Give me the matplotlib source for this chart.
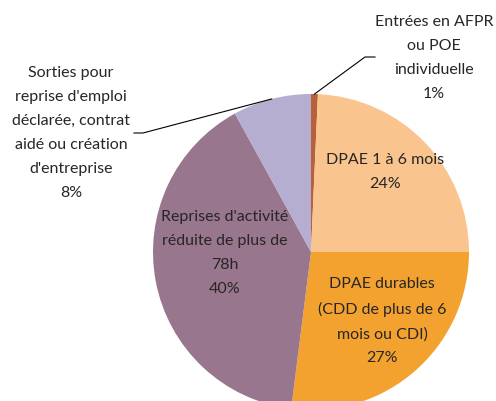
import numpy as np
import matplotlib
matplotlib.use('Agg')
import matplotlib.pyplot as plt

plt.rcParams['font.family'] = ['Lato', 'DejaVu Sans']

# parts of the exits, clockwise from the top
labels = ["Entrées en AFPR\nou POE\nindividuelle",
          "DPAE 1 à 6 mois",
          "DPAE durables\n(CDD de plus de 6\nmois ou CDI)",
          "Reprises d'activité\nréduite de plus de\n78h",
          "Sorties pour\nreprise d'emploi\ndéclarée, contrat\naidé ou création\nd'entreprise"]
values = [0.7, 24.3, 27.0, 40.0, 8.0]
pct_text = ["1%", "24%", "27%", "40%", "8%"]
colors = ['#B8603A', '#FAC48E', '#F4A22F', '#98768E', '#B5AED0']

W, H = 496, 401
fig = plt.figure(figsize=(W / 100, H / 100), dpi=100)
ax = fig.add_axes([0, 0, 1, 1])

cx, cy, r = 311, H - 252, 158
wedges, _ = ax.pie(values, colors=colors, startangle=90, counterclock=False,
                   center=(cx, cy), radius=r,
                   wedgeprops=dict(linewidth=0))
ax.set_xlim(0, W)
ax.set_ylim(0, H)
ax.set_aspect('equal')
ax.axis('off')

txt_color = '#262626'
fs = 11.5
ls = 1.9

# label positions in pixel space (y from top)
inside = {1: (385, 172), 2: (382, 321), 3: (225, 253)}
for i, (x, y) in inside.items():
    ax.text(x, H - y, labels[i] + "\n" + pct_text[i], ha='center', va='center',
            fontsize=fs, color=txt_color, linespacing=ls)

# outside labels with leader lines
outside = {0: ((434, 58), (375, 57), (365, 57)),
           4: ((71, 133), (134, 133), (143, 133))}
for i, ((tx, ty), (hx, hy), (kx, ky)) in outside.items():
    w = wedges[i]
    mid = np.deg2rad((w.theta1 + w.theta2) / 2)
    ex, ey = cx + r * np.cos(mid), cy + r * np.sin(mid)
    ax.plot([ex, kx, hx], [ey, H - ky, H - hy], color='black', lw=0.8)
    ax.text(tx, H - ty, labels[i] + "\n" + pct_text[i], ha='center', va='center',
            fontsize=fs, color=txt_color, linespacing=ls)

fig.savefig('out.png', dpi=100)
